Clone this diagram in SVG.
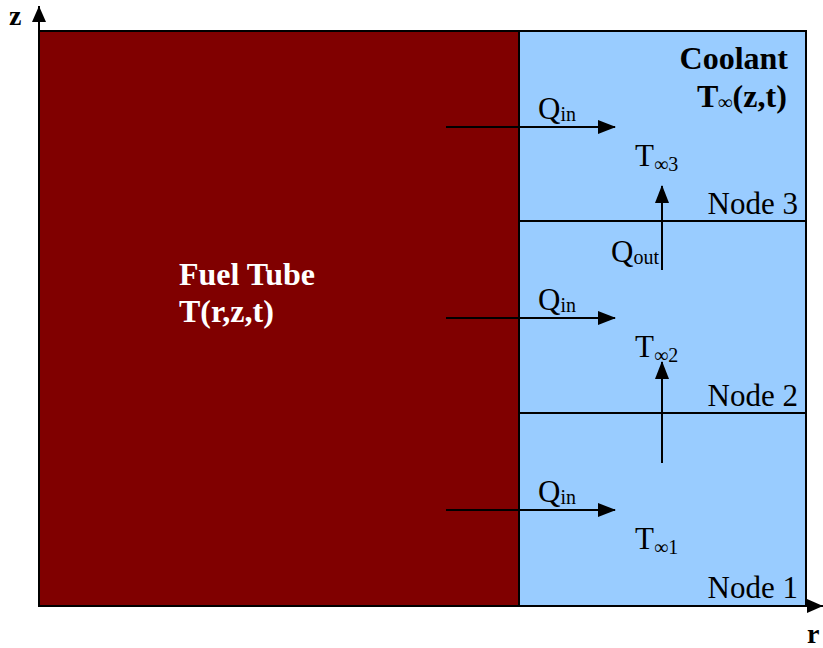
<svg xmlns="http://www.w3.org/2000/svg" width="823" height="648" viewBox="0 0 823 648">
<defs>
<marker id="ah" markerWidth="16" markerHeight="14" refX="16" refY="7" orient="auto" markerUnits="userSpaceOnUse"><path d="M0,0 L16,7 L0,14 Z" fill="#000"/></marker>
<marker id="ahb" markerWidth="18" markerHeight="14" refX="17" refY="7" orient="auto" markerUnits="userSpaceOnUse"><path d="M0,0 L18,7 L0,14 Z" fill="#000"/></marker>
</defs>
<style>
.t{font-family:"Liberation Serif","Times New Roman",serif;font-size:31px;fill:#000}
.b{font-family:"Liberation Serif","Times New Roman",serif;font-size:32px;font-weight:bold}
.s{font-size:20px}
.ln{stroke:#000;stroke-width:2;fill:none}
</style>
<g id="fuel">
<rect x="39" y="31" width="480" height="575" fill="#800000" stroke="#000" stroke-width="2"/>
<text class="b" x="179" y="285" fill="#fff">Fuel Tube</text>
<text class="b" x="179" y="322" fill="#fff">T(r,z,t)</text>
</g>
<g id="coolant">
<rect x="519" y="31" width="287" height="575" fill="#99ccff" stroke="#000" stroke-width="2"/>
<text class="b" x="788" y="69" text-anchor="end" fill="#000">Coolant</text>
<text class="b" x="697" y="107" fill="#000">T<tspan class="s" dy="2">∞</tspan><tspan dy="-2">(z,t)</tspan></text>
</g>
<g id="node3">
<line class="ln" x1="519" y1="221" x2="806" y2="221"/>
<text class="t" x="798" y="214" text-anchor="end">Node 3</text>
<text class="t" x="635" y="166">T<tspan class="s" dy="5">∞3</tspan></text>
</g>
<g id="node2">
<line class="ln" x1="519" y1="413" x2="806" y2="413"/>
<text class="t" x="798" y="406" text-anchor="end">Node 2</text>
<text class="t" x="635" y="357">T<tspan class="s" dy="5">∞2</tspan></text>
</g>
<g id="node1">
<text class="t" x="798" y="598" text-anchor="end">Node 1</text>
<text class="t" x="635" y="549">T<tspan class="s" dy="5">∞1</tspan></text>
</g>
<g id="axes">
<line class="ln" x1="39" y1="606" x2="39" y2="6" marker-end="url(#ah)"/>
<line class="ln" x1="39" y1="606" x2="823" y2="606" marker-end="url(#ah)"/>
<text x="9" y="25" font-family="Liberation Serif,serif" font-size="28" font-weight="bold">z</text>
<text x="807" y="643" font-family="Liberation Serif,serif" font-size="28" font-weight="bold">r</text>
</g>
<g id="connectors">
<line class="ln" x1="446" y1="127" x2="615" y2="127" marker-end="url(#ahb)"/>
<line class="ln" x1="446" y1="318" x2="615" y2="318" marker-end="url(#ahb)"/>
<line class="ln" x1="446" y1="510" x2="615" y2="510" marker-end="url(#ahb)"/>
<line class="ln" x1="662" y1="270" x2="662" y2="186" marker-end="url(#ahb)"/>
<line class="ln" x1="662" y1="463" x2="662" y2="362" marker-end="url(#ahb)"/>
<text class="t" x="538" y="119">Q<tspan class="s" dy="2">in</tspan></text>
<text class="t" x="538" y="310">Q<tspan class="s" dy="2">in</tspan></text>
<text class="t" x="538" y="502">Q<tspan class="s" dy="2">in</tspan></text>
<text class="t" x="611" y="262">Q<tspan class="s" dy="2">out</tspan></text>
</g>
</svg>
